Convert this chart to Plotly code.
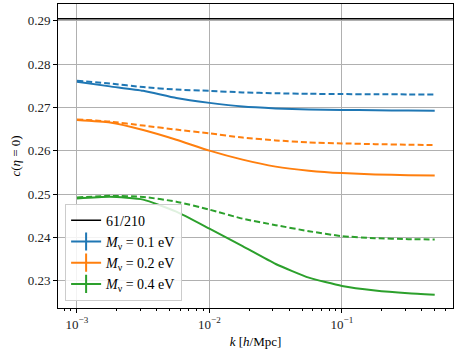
import numpy as np
import plotly.graph_objects as go

# k grid in h/Mpc (log-spaced sample points)
log_k = [-3.0, -2.75, -2.5, -2.25, -2.0, -1.75, -1.5, -1.25, -1.0, -0.75, -0.5, -0.3]
k = [10 ** v for v in log_k]

# c(eta=0) values, solid and dashed for each neutrino mass
c_01_solid = [0.27591, 0.27485, 0.27383, 0.27215, 0.27104, 0.27018, 0.26977, 0.26954, 0.26942, 0.26933, 0.26926, 0.26921]
c_01_dash = [0.27614, 0.2755, 0.27469, 0.27411, 0.27381, 0.27346, 0.27326, 0.27314, 0.27307, 0.27303, 0.273, 0.27298]
c_02_solid = [0.26707, 0.26649, 0.26476, 0.26252, 0.26002, 0.25794, 0.25633, 0.2554, 0.25483, 0.25453, 0.25436, 0.2543]
c_02_dash = [0.26723, 0.26672, 0.2658, 0.26487, 0.264, 0.26303, 0.26238, 0.26192, 0.26169, 0.26152, 0.26139, 0.26129]
c_04_solid = [0.24898, 0.24935, 0.24871, 0.24594, 0.24201, 0.23797, 0.23385, 0.2307, 0.2288, 0.22775, 0.2271, 0.22675]
c_04_dash = [0.24921, 0.24958, 0.24933, 0.24824, 0.2464, 0.24432, 0.24282, 0.24143, 0.24028, 0.23982, 0.23959, 0.23952]

c_ref = 61 / 210
k_star = 0.102

labels = ["<i>M</i><sub>ν</sub> = 0.1 eV", "<i>M</i><sub>ν</sub> = 0.2 eV", "<i>M</i><sub>ν</sub> = 0.4 eV"]
colors = ["#1f77b4", "#ff7f0e", "#2ca02c"]
solids = [c_01_solid, c_02_solid, c_04_solid]
dashes = [c_01_dash, c_02_dash, c_04_dash]

y_ticks = [0.23, 0.24, 0.25, 0.26, 0.27, 0.28, 0.29]
x_ticks = [1e-3, 1e-2, 1e-1]
x_ticktext = ["10<sup>−3</sup>", "10<sup>−2</sup>", "10<sup>−1</sup>"]
minor_x = [m * 10.0 ** e for e in (-4, -3, -2, -1) for m in range(2, 10)]

FONT = "Liberation Serif"
tick_font = dict(family=FONT, size=13, color="#222222")

fig = go.Figure()

for s, d, col in zip(solids, dashes, colors):
    fig.add_trace(go.Scatter(x=k, y=s, mode="lines", line=dict(color=col, width=2, shape="spline", smoothing=0.5),
                             showlegend=False, hoverinfo="skip"))
    fig.add_trace(go.Scatter(x=k, y=d, mode="lines", line=dict(color=col, width=2, dash="6px,3px", shape="spline", smoothing=0.5),
                             showlegend=False, hoverinfo="skip"))

# legend entries
fig.add_trace(go.Scatter(x=[None], y=[None], mode="lines", name="61/210",
                         line=dict(color="black", width=1.5)))
for lab, col in zip(labels, colors):
    fig.add_trace(go.Scatter(x=[None], y=[None], mode="lines+markers", name=lab,
                             line=dict(color=col, width=2),
                             marker=dict(symbol="line-ns", size=13, color=col,
                                         line=dict(color=col, width=2))))

fig.add_hline(y=c_ref, line=dict(color="black", width=1.5))
fig.add_shape(type="line", xref="x", yref="y domain", x0=np.log10(k_star), x1=np.log10(k_star),
              y0=0, y1=1, line=dict(color="black", width=1, dash="3px,2px"))

fig.update_layout(
    width=457, height=355,
    margin=dict(l=58, r=4, t=4, b=47),
    paper_bgcolor="white", plot_bgcolor="white",
    font=dict(family=FONT, size=13, color="black"),
    legend=dict(x=0.018, y=0.024, xanchor="left", yanchor="bottom",
                bgcolor="rgba(255,255,255,0.85)", bordercolor="#cccccc", borderwidth=1,
                font=dict(family=FONT, size=14), itemwidth=30, tracegroupgap=0),
)

fig.update_xaxes(type="log", range=[-3.143, -0.162],
                 tickvals=x_ticks, ticktext=x_ticktext, tickfont=tick_font,
                 ticks="outside", ticklen=4, tickcolor="black",
                 showgrid=True, gridcolor="#b0b0b0", gridwidth=1,
                 showline=True, linecolor="black", linewidth=1, mirror=True,
                 minor=dict(tickvals=minor_x, ticks="outside", ticklen=2, tickcolor="black", showgrid=False),
                 title=dict(text="<i>k</i> [<i>h</i>/Mpc]", standoff=6, font=dict(family=FONT, size=13)),
                 automargin=False, zeroline=False)
fig.update_yaxes(range=[0.2237, 0.29386],
                 tickvals=y_ticks, ticktext=[f"{v:.2f}" for v in y_ticks], tickfont=tick_font,
                 ticks="outside", ticklen=4, tickcolor="black",
                 showgrid=True, gridcolor="#b0b0b0", gridwidth=1,
                 showline=True, linecolor="black", linewidth=1, mirror=True,
                 title=dict(text="<i>c</i>(<i>η</i> = 0)", standoff=4, font=dict(family=FONT, size=13)),
                 automargin=False, zeroline=False)

fig.write_html("out.html", config={"displayModeBar": False},
               post_script="document.body.style.margin='0';")
